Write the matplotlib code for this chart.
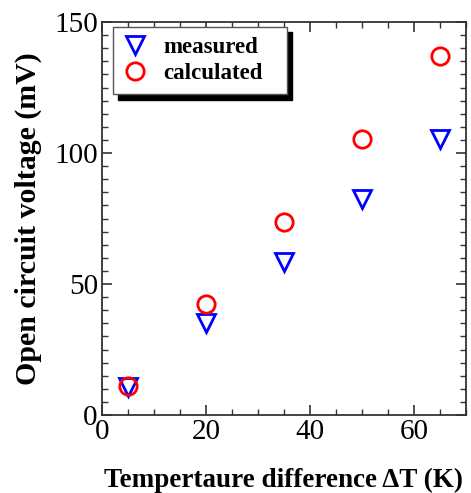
import matplotlib
matplotlib.use("Agg")
import matplotlib.pyplot as plt
from matplotlib.ticker import MultipleLocator

delta_T = [5, 20, 35, 50, 65]
measured = [10.8, 35.0, 58.5, 82.4, 105.2]
calculated = [11.0, 42.3, 73.8, 105.2, 137.0]

plt.rcParams['font.family'] = ['Liberation Serif', 'DejaVu Serif']

fig = plt.figure(figsize=(4.71, 4.93), dpi=100)
ax = fig.add_axes([102/471, 1-415/493, 364/471, 393/493])

ax.plot(delta_T, measured, linestyle='none', marker='v', markersize=13.5,
        markerfacecolor='none', markeredgecolor='#0000ff', markeredgewidth=2.0,
        label='measured')
ax.plot(delta_T, calculated, linestyle='none', marker='o', markersize=12.5,
        markerfacecolor='none', markeredgecolor='#ff0000', markeredgewidth=2.0,
        label='calculated')

ax.set_xlim(0, 70)
ax.set_ylim(0, 150)
ax.xaxis.set_major_locator(MultipleLocator(20))
ax.xaxis.set_minor_locator(MultipleLocator(5))
ax.yaxis.set_major_locator(MultipleLocator(50))
ax.yaxis.set_minor_locator(MultipleLocator(5))
ax.tick_params(which='both', direction='in', top=True, right=True, labelsize=21, color='#333333')
ax.tick_params(which='major', length=7, width=1.2, pad=3)
ax.tick_params(which='minor', length=4, width=1.0)
for s in ax.spines.values():
    s.set_linewidth(1.3)
    s.set_color('#333333')

ax.set_xlabel('Tempertaure difference ΔT (K)', fontsize=19.5, fontweight='bold', labelpad=16)
ax.set_ylabel('Open circuit voltage (mV)', fontsize=21.5, fontweight='bold', labelpad=9)

leg = ax.legend(loc='upper left', bbox_to_anchor=(0.03, 0.0, 0.478, 0.988), mode='expand',
                fontsize=16.5, frameon=True,
                fancybox=False, shadow={'color': 'black', 'alpha': 1, 'ox': 4, 'oy': -4},
                handletextpad=0.7, borderpad=0.45, labelspacing=0.22, handlelength=1.05,
                borderaxespad=0)
leg.get_frame().set_edgecolor('#555555')
leg.get_frame().set_linewidth(1.0)
for t in leg.get_texts():
    t.set_fontweight('bold')

fig.savefig('out.png', dpi=100)
